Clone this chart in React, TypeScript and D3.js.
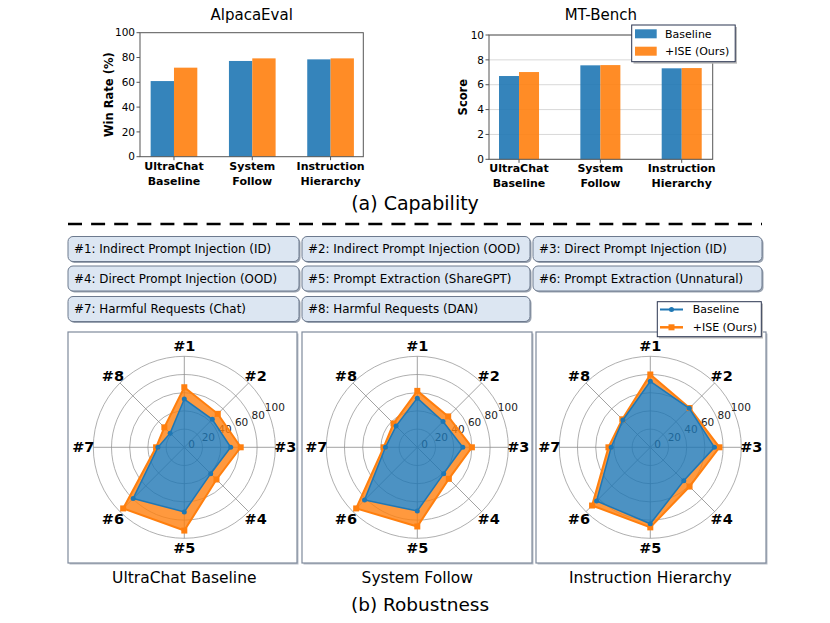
import React from 'react';
import * as d3 from 'd3';

const FONT = "'Comic Sans MS', 'DejaVu Sans', sans-serif";
const BLUE = '#1f77b4';
const ORANGE = '#ff7f0e';

// ---------- data ----------
const barGroups = [['UltraChat', 'Baseline'], ['System', 'Follow'], ['Instruction', 'Hierarchy']];
const seriesNames = ['Baseline', '+ISE (Ours)'];

const alpacaBaseline = [61, 77.2, 78.5];
const alpacaIse = [71.8, 79.3, 79.3];
const alpacaTicks = [0, 20, 40, 60, 80, 100];

const mtBaseline = [6.7, 7.56, 7.32];
const mtIse = [7.02, 7.58, 7.34];
const mtTicks = [0, 2, 4, 6, 8, 10];

const categoryLabels = [
  '#1: Indirect Prompt Injection (ID)',
  '#2: Indirect Prompt Injection (OOD)',
  '#3: Direct Prompt Injection (ID)',
  '#4: Direct Prompt Injection (OOD)',
  '#5: Prompt Extraction (ShareGPT)',
  '#6: Prompt Extraction (Unnatural)',
  '#7: Harmful Requests (Chat)',
  '#8: Harmful Requests (DAN)',
];

const radarAxes = ['#1', '#2', '#3', '#4', '#5', '#6', '#7', '#8'];
const radarTicks = [0, 20, 40, 60, 80, 100];
const radarTitles = ['UltraChat Baseline', 'System Follow', 'Instruction Hierarchy'];

const ucBaseline = [53, 43.5, 51, 41, 71, 79.5, 29, 22];
const ucIse = [66, 52, 62, 50, 91.5, 95, 31, 31];
const sfBaseline = [54, 40, 50, 41, 70, 82, 35, 33];
const sfIse = [62, 48, 60, 49, 87, 95, 37, 37];
const ihBaseline = [72.5, 60.5, 70.5, 52, 84, 83.5, 43, 42.5];
const ihIse = [80, 61, 76, 61, 88, 90.5, 46, 43.5];

const radarBaseline = [ucBaseline, sfBaseline, ihBaseline];
const radarIse = [ucIse, sfIse, ihIse];

// ---------- bar chart ----------
type BarProps = {
  title: string; ylabel: string; base: number[]; ise: number[]; ticks: number[]; yMax: number;
  left: number; right: number; top: number; bottom: number; xDom: [number, number]; bw: number;
  grid: boolean; ylabelX: number; legend?: boolean;
};

function BarChart(p: BarProps) {
  const x = d3.scaleLinear().domain(p.xDom).range([p.left, p.right]);
  const y = d3.scaleLinear().domain([0, p.yMax]).range([p.bottom, p.top]);
  const wpx = x(p.bw) - x(0);
  return (
    <g fontFamily={FONT}>
      <text x={(p.left + p.right) / 2} y={15} dy="0.35em" textAnchor="middle" fontSize={15} fill="#000">{p.title}</text>
      {p.grid && p.ticks.map((t) => (
        <line key={'g' + t} x1={p.left} x2={p.right} y1={y(t)} y2={y(t)} stroke="#d8d8d8" strokeWidth={1} />
      ))}
      {p.base.map((v, i) => (
        <rect key={'b' + i} x={x(i) - wpx} y={y(v)} width={wpx} height={y(0) - y(v)} fill={BLUE} fillOpacity={0.9} />
      ))}
      {p.ise.map((v, i) => (
        <rect key={'o' + i} x={x(i)} y={y(v)} width={wpx} height={y(0) - y(v)} fill={ORANGE} fillOpacity={0.9} />
      ))}
      <rect x={p.left} y={p.top} width={p.right - p.left} height={p.bottom - p.top} fill="none" stroke="#555" strokeWidth={1} />
      {p.ticks.map((t) => (
        <g key={'t' + t}>
          <line x1={p.left - 3.5} x2={p.left} y1={y(t)} y2={y(t)} stroke="#555" />
          <text x={p.left - 5} y={y(t)} dy="0.35em" textAnchor="end" fontSize={10.5}>{t}</text>
        </g>
      ))}
      {barGroups.map((g, i) => (
        <g key={'x' + i}>
          <line x1={x(i)} x2={x(i)} y1={p.bottom} y2={p.bottom + 3.5} stroke="#555" />
          <text x={x(i)} y={p.bottom + 13} textAnchor="middle" fontSize={11} fontWeight="bold">{g[0]}</text>
          <text x={x(i)} y={p.bottom + 28} textAnchor="middle" fontSize={11} fontWeight="bold">{g[1]}</text>
        </g>
      ))}
      <text transform={`translate(${p.ylabelX},${(p.top + p.bottom) / 2}) rotate(-90)`} textAnchor="middle" fontSize={11.5} fontWeight="bold">{p.ylabel}</text>
      {p.legend && (
        <g>
          <rect x={633.5} y={27} width={103.5} height={36.7} fill="#bbb" />
          <rect x={631.7} y={25} width={103.5} height={36.7} fill="#fff" stroke="#2b3550" strokeWidth={1} />
          {[BLUE, ORANGE].map((c, k) => (
            <g key={'l' + k}>
              <rect x={635} y={29.3 + k * 17.4} width={21.7} height={9} fill={c} fillOpacity={0.9} />
              <text x={665} y={33.8 + k * 17.4} dy="0.35em" fontSize={11}>{seriesNames[k]}</text>
            </g>
          ))}
        </g>
      )}
    </g>
  );
}

// ---------- radar ----------
function Radar({ idx, cx, cy, base, ise }: { idx: number; cx: number; cy: number; base: number[]; ise: number[] }) {
  const r = d3.scaleLinear().domain([0, 100]).range([0, 91]);
  const n = radarAxes.length;
  const ang = (i: number) => (i * 2 * Math.PI) / n;
  const line = d3.lineRadial<number>().angle((_, i) => ang(i)).radius((d) => r(d)).curve(d3.curveLinearClosed);
  const pt = (v: number, i: number) => [r(v) * Math.sin(ang(i)), -r(v) * Math.cos(ang(i))];
  const maskId = `mask${idx}`;
  const labA = (24 * Math.PI) / 180;
  return (
    <g transform={`translate(${cx},${cy})`} fontFamily={FONT}>
      <defs>
        <mask id={maskId} maskUnits="userSpaceOnUse" x={-120} y={-120} width={240} height={240}>
          <rect x={-120} y={-120} width={240} height={240} fill="#fff" />
          <path d={line(base) || ''} fill="#000" />
        </mask>
      </defs>
      {radarTicks.slice(1).map((t) => (
        <circle key={'c' + t} r={r(t)} fill="none" stroke="#9a9a9a" strokeWidth={0.8} />
      ))}
      {radarAxes.map((a, i) => {
        const [x2, y2] = pt(100, i);
        return <line key={'s' + i} x1={0} y1={0} x2={x2} y2={y2} stroke="#8a8a8a" strokeWidth={0.8} />;
      })}
      {radarTicks.map((t) => (
        <text key={'rl' + t} x={(r(t) + 7) * Math.cos(labA) + 1} y={-(r(t) + 7) * Math.sin(labA)} dy="0.35em" textAnchor="middle" fontSize={10.5} fill="#222">{t}</text>
      ))}
      <path d={line(ise) || ''} fill={ORANGE} fillOpacity={0.8} mask={`url(#${maskId})`} />
      <path d={line(base) || ''} fill={BLUE} fillOpacity={0.8} />
      <path d={line(ise) || ''} fill="none" stroke={ORANGE} strokeWidth={2} />
      {ise.map((v, i) => {
        const [px, py] = pt(v, i);
        return <rect key={'os' + i} x={px - 3} y={py - 3} width={6} height={6} fill={ORANGE} />;
      })}
      <path d={line(base) || ''} fill="none" stroke={BLUE} strokeWidth={1.5} />
      {base.map((v, i) => {
        const [px, py] = pt(v, i);
        return <circle key={'bc' + i} cx={px} cy={py} r={2.5} fill={BLUE} />;
      })}
      {radarAxes.map((a, i) => {
        const [lx, ly] = pt(111, i);
        return <text key={'a' + i} x={lx} y={ly} dy="0.35em" textAnchor="middle" fontSize={14.5} fontWeight="bold">{a}</text>;
      })}
    </g>
  );
}

export default function App() {
  const panelX = [68, 302, 536];
  const panelW = [229, 230, 230];
  const centers = [184.3, 417.3, 650.3];
  const boxCols = [68, 302, 533];
  const boxW = [231, 228, 229];
  const boxRows = [236.5, 266, 296.5];
  const dashes = d3.range(68, 762, 23.1);
  return (
    <svg width={830} height={623} style={{ position: 'absolute', left: 0, top: 0, background: '#fff' }} fontFamily={FONT}>
      <rect width={830} height={623} fill="#fff" />
      <BarChart title="AlpacaEval" ylabel="Win Rate (%)" base={alpacaBaseline} ise={alpacaIse} ticks={alpacaTicks} yMax={100}
        left={140} right={363.3} top={32.7} bottom={156.7} xDom={[-0.434, 2.418]} bw={0.298} grid={false} ylabelX={113} />
      <BarChart title="MT-Bench" ylabel="Score" base={mtBaseline} ise={mtIse} ticks={mtTicks} yMax={10}
        left={489} right={712.7} top={35} bottom={159.3} xDom={[-0.369, 2.381]} bw={0.246} grid={true} ylabelX={467} legend={true} />
      <text x={415} y={203} dy="0.35em" textAnchor="middle" fontSize={19}>(a) Capability</text>
      {dashes.map((d, i) => (
        <line key={'d' + i} x1={d} x2={Math.min(d + 14, 762)} y1={224} y2={224} stroke="#000" strokeWidth={2.5} />
      ))}
      {categoryLabels.map((c, i) => {
        const col = i % 3;
        const row = Math.floor(i / 3);
        const bx = boxCols[col];
        const by = boxRows[row];
        return (
          <g key={'cb' + i}>
            <rect x={bx + 1.5} y={by + 1.5} width={boxW[col]} height={25} rx={5} fill="#9aa3b0" />
            <rect x={bx} y={by} width={boxW[col]} height={25} rx={5} fill="#dce6f2" stroke="#6d7a8e" strokeWidth={1} />
            <text x={bx + 6} y={by + 12.5} dy="0.35em" fontSize={11.9}>{c}</text>
          </g>
        );
      })}
      {panelX.map((px, k) => (
        <g key={'p' + k}>
          <rect x={px + 1.5} y={333.5} width={panelW[k]} height={231} fill="#b8bec8" />
          <rect x={px} y={332} width={panelW[k]} height={231} fill="#fff" stroke="#7f8a9c" strokeWidth={1.2} />
        </g>
      ))}
      {centers.map((cx, k) => (
        <Radar key={'r' + k} idx={k} cx={cx} cy={447.3} base={radarBaseline[k]} ise={radarIse[k]} />
      ))}
      <g>
        <rect x={659} y={303.5} width={104} height={35} fill="#bbb" />
        <rect x={657.3} y={301.7} width={104} height={35} fill="#fff" stroke="#2b3550" strokeWidth={1} />
        <line x1={660} x2={683} y1={309.5} y2={309.5} stroke={BLUE} strokeWidth={2} />
        <circle cx={671.5} cy={309.5} r={2.5} fill={BLUE} />
        <text x={692.7} y={309.5} dy="0.35em" fontSize={11}>{seriesNames[0]}</text>
        <line x1={660} x2={683} y1={327.3} y2={327.3} stroke={ORANGE} strokeWidth={2.5} />
        <rect x={668.5} y={324.3} width={6} height={6} fill={ORANGE} />
        <text x={692.7} y={327.3} dy="0.35em" fontSize={11}>{seriesNames[1]}</text>
      </g>
      {radarTitles.map((t, k) => (
        <text key={'rt' + k} x={centers[k]} y={578} dy="0.35em" textAnchor="middle" fontSize={15.5}>{t}</text>
      ))}
      <text x={420} y={605} dy="0.35em" textAnchor="middle" fontSize={18.5}>(b) Robustness</text>
    </svg>
  );
}
